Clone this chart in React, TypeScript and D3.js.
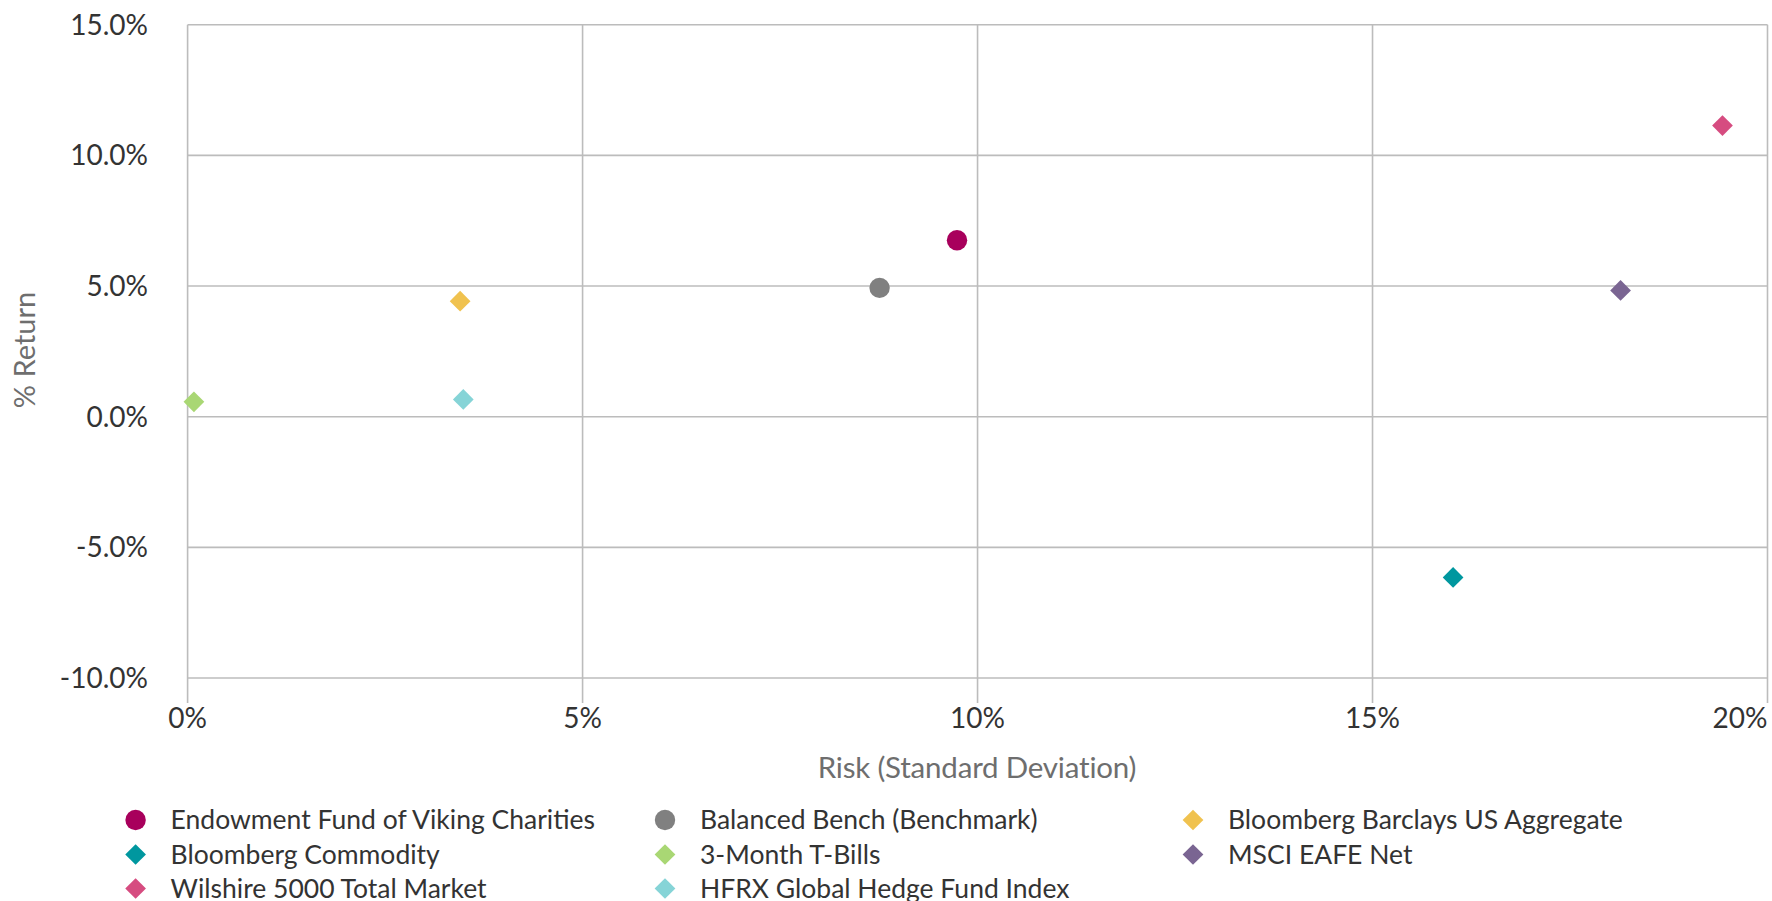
import React from "react";
import * as d3 from "d3";

// risk (std dev, %) vs return (%)
const seriesNames = [
  "Endowment Fund of Viking Charities",
  "Balanced Bench (Benchmark)",
  "Bloomberg Barclays US Aggregate",
  "Bloomberg Commodity",
  "3-Month T-Bills",
  "MSCI EAFE Net",
  "Wilshire 5000 Total Market",
  "HFRX Global Hedge Fund Index",
];
const riskValues = [9.74, 8.76, 3.45, 16.02, 0.08, 18.14, 19.43, 3.49];
const returnValues = [6.75, 4.93, 4.42, -6.15, 0.57, 4.83, 11.14, 0.66];
const seriesShapes = ["circle", "circle", "diamond", "diamond", "diamond", "diamond", "diamond", "diamond"];
const seriesColors = [
  "#a8005c",
  "#808080",
  "#f0c24f",
  "#00979f",
  "#a9d774",
  "#7a6592",
  "#d64c80",
  "#86d4d7",
];

const xTicks = [0, 5, 10, 15, 20];
const yTicks = [15, 10, 5, 0, -5, -10];

const W = 1772;
const H = 901;
const margin = { top: 24.7, right: 4.5, bottom: 223, left: 187.6 };
const FONT = "Lato, 'Open Sans', sans-serif";

const circleSym = d3.symbol(d3.symbolCircle, Math.PI * 10.2 * 10.2)();
const diamondSym = d3.symbol(d3.symbolSquare, 215)();

// hyphen instead of unicode minus, like the original
const fmtY = (v: number) => d3.format(".1f")(v).replace("\u2212", "-") + "%";

const Marker = ({ shape, color }: { shape: string; color: string }) =>
  shape === "circle" ? (
    <path d={circleSym!} fill={color} />
  ) : (
    <path d={diamondSym!} fill={color} transform="rotate(45)" />
  );

export default function App() {
  const x = d3
    .scaleLinear()
    .domain([0, 20])
    .range([margin.left, W - margin.right]);
  const y = d3
    .scaleLinear()
    .domain([-10, 15])
    .range([H - margin.bottom, margin.top]);

  const legendCols = [135.6, 665, 1193];
  const legendRows = [820, 854.5, 888.5];

  return (
    <div style={{ position: "fixed", left: 0, top: 0 }}>
      <svg width={W} height={H} style={{ display: "block", background: "#fff" }}>
        {/* horizontal grid */}
        {yTicks.map((t) => (
          <line
            key={"hy" + t}
            x1={x(0)}
            x2={x(20)}
            y1={y(t)}
            y2={y(t)}
            stroke="#bcbcbc"
            strokeWidth={1.6}
          />
        ))}
        {/* vertical grid + tick marks */}
        {xTicks.map((t) => (
          <line
            key={"vx" + t}
            x1={x(t)}
            x2={x(t)}
            y1={y(15)}
            y2={y(-10) + 25}
            stroke="#bcbcbc"
            strokeWidth={1.6}
          />
        ))}
        {/* y tick labels */}
        {yTicks.map((t) => (
          <text
            key={"ly" + t}
            x={148}
            y={y(t)}
            dy="0.36em"
            textAnchor="end"
            fontFamily={FONT}
            fontSize={28}
            fill="#333"
          >
            {fmtY(t)}
          </text>
        ))}
        {/* x tick labels */}
        {xTicks.map((t, i) => (
          <text
            key={"lx" + t}
            x={x(t)}
            y={728}
            textAnchor={i === xTicks.length - 1 ? "end" : "middle"}
            fontFamily={FONT}
            fontSize={28}
            fill="#333"
          >
            {t + "%"}
          </text>
        ))}
        {/* axis titles */}
        <text
          x={977}
          y={778}
          textAnchor="middle"
          fontFamily={FONT}
          fontSize={29.5}
          fill="#6e6e6e"
          letterSpacing={-0.2}
        >
          Risk (Standard Deviation)
        </text>
        <text
          transform="translate(35,350) rotate(-90)"
          textAnchor="middle"
          fontFamily={FONT}
          fontSize={29}
          fill="#6e6e6e"
        >
          % Return
        </text>
        {/* points */}
        {seriesNames.map((name, i) => (
          <g key={"p" + name} transform={`translate(${x(riskValues[i])},${y(returnValues[i])})`}>
            <Marker shape={seriesShapes[i]} color={seriesColors[i]} />
          </g>
        ))}
        {/* legend */}
        {seriesNames.map((name, i) => {
          const col = i % 3;
          const row = Math.floor(i / 3);
          return (
            <g key={"lg" + name} transform={`translate(${legendCols[col]},${legendRows[row]})`}>
              <Marker shape={seriesShapes[i]} color={seriesColors[i]} />
              <text
                x={35}
                dy="0.35em"
                fontFamily={FONT}
                fontSize={26.5}
                fill="#333"
              >
                {name}
              </text>
            </g>
          );
        })}
      </svg>
    </div>
  );
}
